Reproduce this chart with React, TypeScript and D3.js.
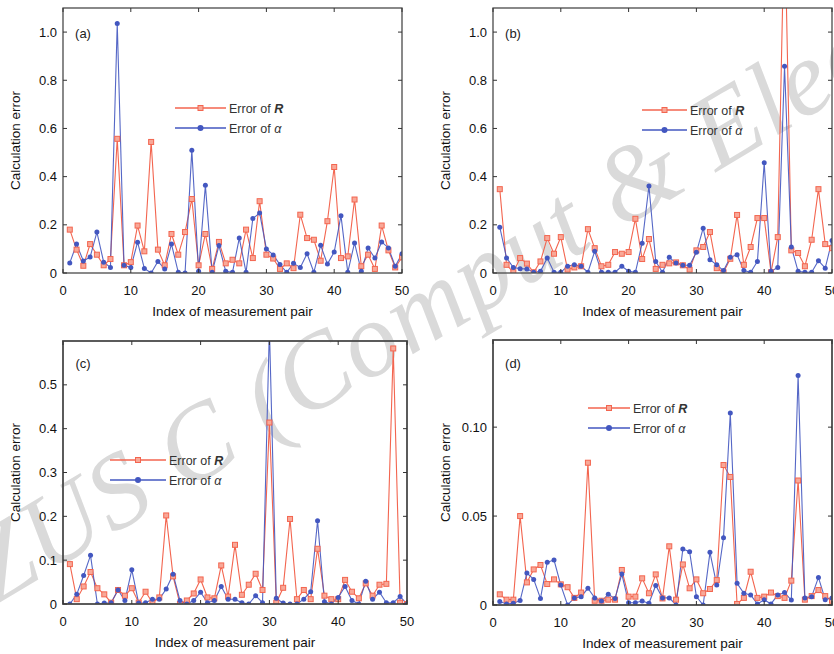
import React from 'react';
import * as d3 from 'd3';

const idx = d3.range(1, 51);

const errRa = [0.18, 0.097, 0.03, 0.12, 0.076, 0.032, 0.058, 0.557, 0.032, 0.045,
  0.197, 0.09, 0.544, 0.097, 0.032, 0.162, 0.076, 0.17, 0.307, 0.032,
  0.162, 0.017, 0.129, 0.04, 0.055, 0.04, 0.18, 0.062, 0.298, 0.076,
  0.06, 0.017, 0.04, 0.02, 0.242, 0.145, 0.138, 0.051, 0.215, 0.44,
  0.062, 0.069, 0.305, 0.028, 0.076, 0.017, 0.197, 0.094, 0.023, 0.065];
const errAa = [0.042, 0.12, 0.05, 0.066, 0.17, 0.045, 0.023, 1.036, 0.032, 0.023,
  0.128, 0.019, 0.0, 0.048, 0.017, 0.12, 0.003, 0.0, 0.51, 0.007,
  0.364, 0.003, 0.114, 0.007, 0.003, 0.145, 0.003, 0.226, 0.249, 0.1,
  0.075, 0.035, 0.003, 0.04, 0.023, 0.08, 0.003, 0.115, 0.037, 0.087,
  0.238, 0.003, 0.125, 0.007, 0.104, 0.062, 0.129, 0.104, 0.028, 0.08];

const errRb = [0.348, 0.034, 0.003, 0.062, 0.039, 0.003, 0.048, 0.145, 0.08, 0.149,
  0.014, 0.023, 0.028, 0.182, 0.103, 0.028, 0.034, 0.087, 0.08, 0.087,
  0.225, 0.058, 0.141, 0.017, 0.034, 0.04, 0.044, 0.032, 0.014, 0.094,
  0.108, 0.17, 0.02, 0.003, 0.059, 0.241, 0.034, 0.108, 0.228, 0.228,
  0.003, 0.149, 1.5, 0.094, 0.083, 0.028, 0.138, 0.348, 0.12, 0.103];
const errAb = [0.19, 0.062, 0.023, 0.018, 0.017, 0.003, 0.007, 0.062, 0.003, 0.003,
  0.028, 0.034, 0.028, 0.003, 0.09, 0.003, 0.003, 0.003, 0.028, 0.007,
  0.003, 0.124, 0.361, 0.048, 0.003, 0.065, 0.041, 0.032, 0.032, 0.086,
  0.186, 0.055, 0.034, 0.01, 0.065, 0.076, 0.01, 0.003, 0.048, 0.458,
  0.007, 0.023, 0.858, 0.108, 0.007, 0.003, 0.003, 0.051, 0.02, 0.135];

const errRc = [0.091, 0.011, 0.04, 0.073, 0.036, 0.022, 0.003, 0.032, 0.019, 0.036,
  0.003, 0.028, 0.003, 0.015, 0.202, 0.063, 0.0, 0.008, 0.024, 0.056,
  0.015, 0.013, 0.088, 0.017, 0.135, 0.021, 0.044, 0.069, 0.032, 0.414,
  0.003, 0.037, 0.194, 0.011, 0.032, 0.011, 0.126, 0.019, 0.011, 0.011,
  0.055, 0.028, 0.013, 0.047, 0.019, 0.044, 0.046, 0.583, 0.003, 0.0];
const errAc = [0.0, 0.022, 0.065, 0.111, 0.0, 0.002, 0.003, 0.032, 0.008, 0.078,
  0.002, 0.003, 0.011, 0.011, 0.034, 0.068, 0.008, 0.0, 0.008, 0.027,
  0.003, 0.008, 0.04, 0.011, 0.011, 0.003, 0.0, 0.019, 0.003, 0.63,
  0.013, 0.002, 0.0, 0.0, 0.011, 0.028, 0.19, 0.005, 0.0, 0.015,
  0.04, 0.008, 0.0, 0.052, 0.011, 0.027, 0.003, 0.003, 0.017, 0.0];

const errRd = [0.006, 0.003, 0.003, 0.05, 0.0127, 0.02, 0.0225, 0.0118, 0.0144, 0.0116,
  0.01, 0.004, 0.007, 0.08, 0.0024, 0.0024, 0.003, 0.003, 0.0197, 0.0047,
  0.0047, 0.015, 0.0066, 0.0172, 0.0037, 0.033, 0.003, 0.0228, 0.0094, 0.0144,
  0.0066, 0.009, 0.014, 0.0787, 0.072, 0.0006, 0.004, 0.0187, 0.004, 0.0047,
  0.007, 0.005, 0.004, 0.0137, 0.07, 0.003, 0.005, 0.0084, 0.005, 0.0024];
const errAd = [0.002, 0.0006, 0.001, 0.0025, 0.018, 0.0144, 0.0037, 0.024, 0.0253, 0.0112,
  0.0, 0.004, 0.0047, 0.0094, 0.004, 0.0022, 0.006, 0.0037, 0.0174, 0.0013,
  0.0013, 0.0022, 0.001, 0.011, 0.004, 0.004, 0.0, 0.0315, 0.03, 0.0047,
  0.0, 0.0296, 0.0112, 0.0378, 0.108, 0.0122, 0.0066, 0.0056, 0.0006, 0.003,
  0.0006, 0.0056, 0.007, 0.0028, 0.129, 0.004, 0.0047, 0.0155, 0.003, 0.004];

const xTicks = [0, 10, 20, 30, 40, 50];
const yTicksAB = [0, 0.2, 0.4, 0.6, 0.8, 1.0];
const yTicksC = [0, 0.1, 0.2, 0.3, 0.4, 0.5];
const yTicksD = [0, 0.05, 0.1];
const panelLabels = ['(a)', '(b)', '(c)', '(d)'];

const RED = '#f3654f';
const RED_FILL = '#f8a898';
const BLUE = '#4357c0';
const NARROW = '"Liberation Sans Narrow", "Arial Narrow", "Liberation Sans", Arial, sans-serif';
const SANS = '"Liberation Sans", Arial, sans-serif';

interface Cfg {
  key: string; left: number; right: number; top: number; bottom: number;
  yMax: number; yTicks: number[]; fmt: (v: number) => string;
  legX1: number; legX2: number; legY: number; label: string; labX: number; labY: number;
  r: number[]; a: number[]; frameW: number;
}

const fmt1 = (v: number) => (v === 0 ? '0' : d3.format('.1f')(v));
const fmt2 = (v: number) => (v === 0 ? '0' : d3.format('.2f')(v));

const panels: Cfg[] = [
  { key: 'a', left: 63, right: 402, top: 8, bottom: 273, yMax: 1.1, yTicks: yTicksAB, fmt: fmt1,
    legX1: 175, legX2: 226, legY: 108, label: panelLabels[0], labX: 83, labY: 33, r: errRa, a: errAa, frameW: 1.3 },
  { key: 'b', left: 493, right: 832, top: 8, bottom: 273, yMax: 1.1, yTicks: yTicksAB, fmt: fmt1,
    legX1: 642, legX2: 687, legY: 110, label: panelLabels[1], labX: 513, labY: 33, r: errRb, a: errAb, frameW: 1.3 },
  { key: 'c', left: 63, right: 407, top: 341, bottom: 604, yMax: 0.6, yTicks: yTicksC, fmt: fmt1,
    legX1: 110, legX2: 166, legY: 460, label: panelLabels[2], labX: 83, labY: 363, r: errRc, a: errAc, frameW: 1.8 },
  { key: 'd', left: 493, right: 832, top: 340, bottom: 605, yMax: 0.149, yTicks: yTicksD, fmt: fmt2,
    legX1: 588, legX2: 630, legY: 408, label: panelLabels[3], labX: 513, labY: 363, r: errRd, a: errAd, frameW: 1.8 },
];

function Panel({ cfg }: { cfg: Cfg }) {
  const x = d3.scaleLinear().domain([0, 50]).range([cfg.left, cfg.right]);
  const y = d3.scaleLinear().domain([0, cfg.yMax]).range([cfg.bottom, cfg.top]);
  const line = d3.line<number>().x((_, i) => x(idx[i])).y((d) => y(d));
  const clipId = `clip-${cfg.key}`;
  const tl = 4;
  const midX = (cfg.left + cfg.right) / 2;
  const midY = (cfg.top + cfg.bottom) / 2;
  const yLabX = cfg.left - 43;
  const legMid = (cfg.legX1 + cfg.legX2) / 2;
  const ms = 5;
  return (
    <g>
      <defs>
        <clipPath id={clipId}>
          <rect x={cfg.left} y={cfg.top} width={cfg.right - cfg.left} height={cfg.bottom - cfg.top} />
        </clipPath>
      </defs>
      <g clipPath={`url(#${clipId})`}>
        <path d={line(cfg.r) || ''} fill="none" stroke={RED} strokeWidth={1.1} />
        <path d={line(cfg.a) || ''} fill="none" stroke={BLUE} strokeWidth={1.1} opacity={0.9} />
        {cfg.r.map((v, i) => (
          <rect key={'r' + i} x={x(idx[i]) - ms / 2} y={y(v) - ms / 2} width={ms} height={ms}
            fill={RED_FILL} stroke={RED} strokeWidth={1} />
        ))}
        {cfg.a.map((v, i) => (
          <circle key={'a' + i} cx={x(idx[i])} cy={y(v)} r={2.5} fill={BLUE} />
        ))}
      </g>
      <rect x={cfg.left} y={cfg.top} width={cfg.right - cfg.left} height={cfg.bottom - cfg.top}
        fill="none" stroke="#4a4a4a" strokeWidth={cfg.frameW} />
      {xTicks.map((t) => (
        <g key={'xt' + t}>
          <line x1={x(t)} x2={x(t)} y1={cfg.bottom} y2={cfg.bottom - tl} stroke="#333" strokeWidth={1} />
          <line x1={x(t)} x2={x(t)} y1={cfg.top} y2={cfg.top + tl} stroke="#333" strokeWidth={1} />
          <text x={x(t)} y={cfg.bottom + 22} textAnchor="middle" fontFamily={NARROW} fontSize={13} fill="#111">{t}</text>
        </g>
      ))}
      {cfg.yTicks.map((t) => (
        <g key={'yt' + t}>
          <line x1={cfg.left} x2={cfg.left + tl} y1={y(t)} y2={y(t)} stroke="#333" strokeWidth={1} />
          <line x1={cfg.right} x2={cfg.right - tl} y1={y(t)} y2={y(t)} stroke="#333" strokeWidth={1} />
          <text x={cfg.left - 6} y={y(t) + 4.5} textAnchor="end" fontFamily={NARROW} fontSize={13} fill="#111">{cfg.fmt(t)}</text>
        </g>
      ))}
      <text x={midX} y={cfg.bottom + 43} textAnchor="middle" fontFamily={NARROW} fontSize={13.5} fill="#111">Index of measurement pair</text>
      <text transform={`translate(${yLabX},${midY}) rotate(-90)`} textAnchor="middle" fontFamily={NARROW} fontSize={13.5} fill="#111">Calculation error</text>
      <text x={cfg.labX} y={cfg.labY + 5} textAnchor="middle" fontFamily={SANS} fontSize={13} fill="#222">{cfg.label}</text>
      <line x1={cfg.legX1} x2={cfg.legX2} y1={cfg.legY} y2={cfg.legY} stroke={RED} strokeWidth={1.3} />
      <rect x={legMid - ms / 2} y={cfg.legY - ms / 2} width={ms} height={ms} fill={RED_FILL} stroke={RED} strokeWidth={1} />
      <text x={cfg.legX2 + 3} y={cfg.legY + 4.5} fontFamily={SANS} fontSize={12.5} fill="#333">Error of <tspan fontWeight="bold" fontStyle="italic">R</tspan></text>
      <line x1={cfg.legX1} x2={cfg.legX2} y1={cfg.legY + 20} y2={cfg.legY + 20} stroke={BLUE} strokeWidth={1.3} />
      <circle cx={legMid} cy={cfg.legY + 20} r={3} fill={BLUE} />
      <text x={cfg.legX2 + 3} y={cfg.legY + 24.5} fontFamily={SANS} fontSize={12.5} fill="#333">Error of <tspan fontStyle="italic">α</tspan></text>
    </g>
  );
}

export default function App() {
  return (
    <svg width={834} height={654} style={{ position: 'absolute', left: 0, top: 0, background: '#fff' }}>
      <rect x={0} y={0} width={834} height={654} fill="#fff" />
      <text transform="translate(-6,606) rotate(-31)" fontFamily='"Liberation Serif", "DejaVu Serif", serif'
        fontStyle="italic" fontSize={106} letterSpacing={1.5} fill="#dadada">ZUS C (Comput &amp; Electron)</text>
      {panels.map((p) => <Panel key={p.key} cfg={p} />)}
    </svg>
  );
}
